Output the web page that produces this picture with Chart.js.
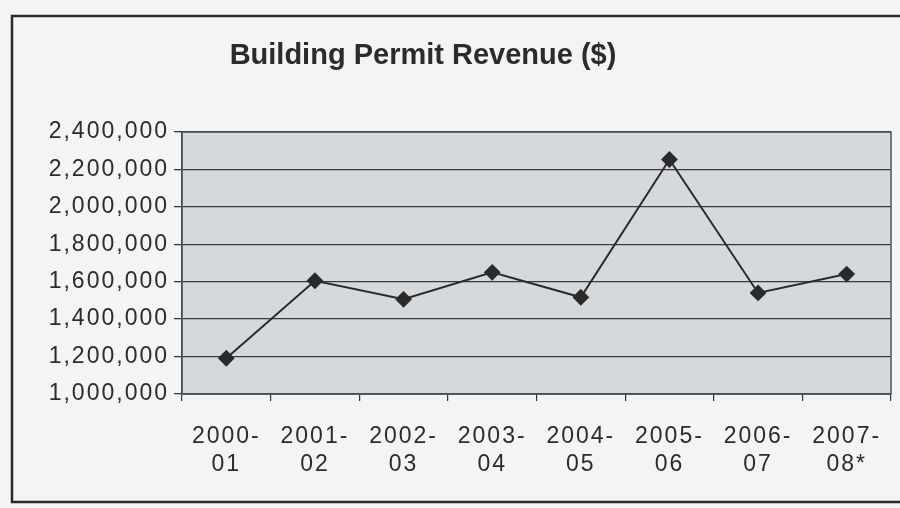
<!DOCTYPE html>
<html>
<head>
<meta charset="utf-8">
<script src="https://cdn.jsdelivr.net/npm/chart.js@4/dist/chart.umd.min.js"></script>
<style>
  html, body { margin: 0; padding: 0; background: #f3f4f5; }
  #wrap { width: 900px; height: 508px; position: relative; }
</style>
</head>
<body>
<div id="wrap"><canvas id="c" width="900" height="508"></canvas></div>
<script>
const chartTitle = 'Building Permit Revenue ($)';
const categories = [['2000-', '01'], ['2001-', '02'], ['2002-', '03'], ['2003-', '04'], ['2004-', '05'], ['2005-', '06'], ['2006-', '07'], ['2007-', '08*']];
const revenue = [1191000, 1605000, 1506000, 1650000, 1517000, 2253000, 1540000, 1641000];
const yMin = 1000000;
const yMax = 2400000;
const yStep = 200000;

function spacing(ctx, v) {
  if ('letterSpacing' in ctx) ctx.letterSpacing = v;
}

const framePlugin = {
  id: 'frame',
  beforeLayout(chart) { spacing(chart.ctx, '2px'); },
  beforeDraw(chart) {
    const ctx = chart.ctx;
    const a = chart.chartArea;
    spacing(ctx, '2px');
    ctx.save();
    ctx.fillStyle = '#f3f4f5';
    ctx.fillRect(0, 0, chart.width, chart.height);
    // outer chart border
    ctx.strokeStyle = '#2a2a2a';
    ctx.lineWidth = 2.5;
    ctx.strokeRect(12, 16, 900, 486);
    // plot area
    ctx.fillStyle = '#d6d9dc';
    ctx.fillRect(a.left, a.top, a.right - a.left, a.bottom - a.top);
    // title
    spacing(ctx, '0px');
    ctx.fillStyle = '#2b2b2b';
    ctx.font = 'bold 29px "Liberation Sans", Arial, sans-serif';
    ctx.textAlign = 'center';
    ctx.textBaseline = 'middle';
    ctx.fillText(chartTitle, 423, 56);
    ctx.restore();
    spacing(ctx, '2px');
  },
  afterDatasetsDraw(chart) {
    const ctx = chart.ctx;
    const a = chart.chartArea;
    ctx.save();
    ctx.strokeStyle = '#555';
    ctx.lineWidth = 1.5;
    ctx.strokeRect(a.left, a.top, a.right - a.left, a.bottom - a.top);
    ctx.restore();
  }
};

new Chart(document.getElementById('c'), {
  type: 'line',
  data: {
    labels: categories,
    datasets: [{
      data: revenue,
      borderColor: '#2a2a2a',
      borderWidth: 2,
      backgroundColor: '#2a2a2a',
      pointStyle: 'rectRot',
      pointRadius: 7,
      pointHoverRadius: 7,
      tension: 0,
      fill: false
    }]
  },
  options: {
    responsive: false,
    animation: false,
    layout: { padding: { left: 10, right: 7, top: 132, bottom: 10 } },
    plugins: {
      legend: { display: false },
      title: { display: false },
      tooltip: { enabled: false }
    },
    scales: {
      x: {
        offset: true,
        afterFit(scale) {
          scale.height = 104;
          scale.paddingLeft = 0;
          scale.paddingRight = 0;
        },
        grid: {
          offset: true,
          drawOnChartArea: false,
          color: '#333',
          tickLength: 7,
          lineWidth: 1.2
        },
        border: { color: '#333', width: 1.5 },
        ticks: {
          color: '#2b2b2b',
          font: { family: '"Liberation Sans", Arial, sans-serif', size: 23, lineHeight: 1.22 },
          padding: 22,
          maxRotation: 0,
          autoSkip: false
        }
      },
      y: {
        min: yMin,
        max: yMax,
        afterFit(scale) { scale.width = 172; },
        grid: {
          color: '#3a3a3a',
          lineWidth: 1.3,
          tickLength: 8
        },
        border: { color: '#333', width: 1.5 },
        ticks: {
          stepSize: yStep,
          color: '#2b2b2b',
          padding: 5,
          font: { family: '"Liberation Sans", Arial, sans-serif', size: 23 },
          callback: v => v.toLocaleString('en-US')
        }
      }
    }
  },
  plugins: [framePlugin]
});
</script>
</body>
</html>
